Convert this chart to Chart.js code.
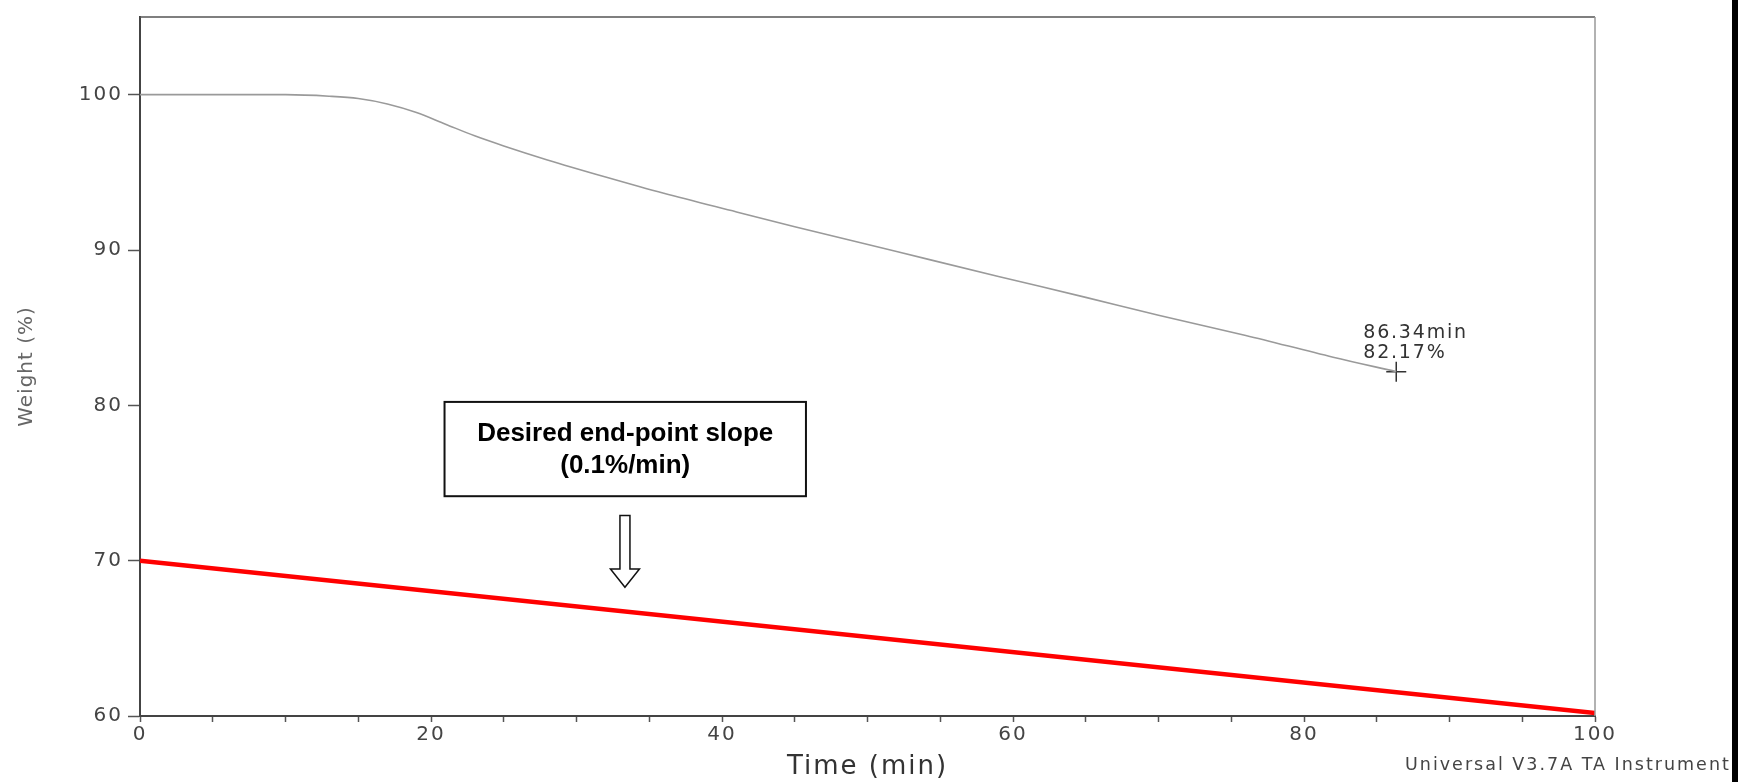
<!DOCTYPE html>
<html>
<head>
<meta charset="utf-8">
<script src="https://cdn.jsdelivr.net/npm/chart.js@4/dist/chart.umd.min.js"></script>
<style>
html, body { margin: 0; padding: 0; background: #fff; overflow: hidden; }
canvas { display: block; }
</style>
</head>
<body>
<canvas id="tgaChart" width="1738" height="782"></canvas>
<script>
// weight loss curve
const curveTime = [0, 5, 10, 13, 15, 17, 19, 21, 23, 25, 28, 32, 36, 41, 45, 52, 59, 65, 70, 76, 82, 86.34]
const curveWeight = [100, 100, 100, 99.9, 99.75, 99.4, 98.85, 98.1, 97.35, 96.7, 95.8, 94.7, 93.65, 92.45, 91.5, 89.9, 88.3, 86.95, 85.8, 84.5, 83.1, 82.17]

// red reference line (desired slope)
const slopeTime = [0, 100]
const slopeWeight = [70, 60.2]

// end point marker
const markTime = [86.34]
const markWeight = [82.17]
const markLabel = ['86.34min', '82.17%']

const yTicks = [60, 70, 80, 90, 100]
const xLabels = [0, 20, 40, 60, 80, 100]

const boxText = ['Desired end-point slope', '(0.1%/min)']

const toXY = (xs, ys) => xs.map((v, i) => ({ x: v, y: ys[i] }))

const tickFont = { family: '"DejaVu Sans", sans-serif', size: 20 }

// the scanned instrument font is wide, so space the letters out a bit
const wideText = {
    id: 'wideText',
    beforeDraw(chart) {
        chart.ctx.letterSpacing = '2px'
    }
}

const extras = {
    id: 'extras',
    afterDraw(chart) {
        const { ctx, chartArea: a, scales: { x, y } } = chart
        ctx.save()

        // frame top + right
        ctx.lineWidth = 1.5
        ctx.strokeStyle = '#555'
        ctx.beginPath()
        ctx.moveTo(a.left, a.top)
        ctx.lineTo(a.right, a.top)
        ctx.stroke()
        ctx.strokeStyle = '#999'
        ctx.beginPath()
        ctx.moveTo(a.right, a.top)
        ctx.lineTo(a.right, a.bottom)
        ctx.stroke()

        // marker label
        const mx = x.getPixelForValue(markTime[0])
        const my = y.getPixelForValue(markWeight[0])
        ctx.letterSpacing = '1.8px'
        ctx.fillStyle = '#333'
        ctx.font = '19px "DejaVu Sans", sans-serif'
        ctx.textAlign = 'left'
        ctx.textBaseline = 'middle'
        ctx.fillText(markLabel[0], mx - 33, my - 39)
        ctx.fillText(markLabel[1], mx - 33, my - 19)

        // annotation box
        const bx1 = x.getPixelForValue(20.93), bx2 = x.getPixelForValue(45.77)
        const by1 = y.getPixelForValue(80.22), by2 = y.getPixelForValue(74.15)
        ctx.fillStyle = '#fff'
        ctx.fillRect(bx1, by1, bx2 - bx1, by2 - by1)
        ctx.strokeStyle = '#111'
        ctx.lineWidth = 2
        ctx.strokeRect(bx1, by1, bx2 - bx1, by2 - by1)
        ctx.letterSpacing = '0px'
        ctx.fillStyle = '#000'
        ctx.font = 'bold 26px "Liberation Sans", Arial, sans-serif'
        ctx.textAlign = 'center'
        const bcx = (bx1 + bx2) / 2
        ctx.fillText(boxText[0], bcx, by1 + 32)
        ctx.fillText(boxText[1], bcx, by1 + 64)

        // hollow arrow
        const ax = x.getPixelForValue(33.33)
        const aTop = y.getPixelForValue(72.9)
        const aNeck = y.getPixelForValue(69.47)
        const aTip = y.getPixelForValue(68.29)
        ctx.beginPath()
        ctx.moveTo(ax - 5, aTop)
        ctx.lineTo(ax + 5, aTop)
        ctx.lineTo(ax + 5, aNeck)
        ctx.lineTo(ax + 14.5, aNeck)
        ctx.lineTo(ax, aTip)
        ctx.lineTo(ax - 14.5, aNeck)
        ctx.lineTo(ax - 5, aNeck)
        ctx.closePath()
        ctx.fillStyle = '#fff'
        ctx.fill()
        ctx.strokeStyle = '#111'
        ctx.lineWidth = 1.5
        ctx.stroke()

        // y axis title
        ctx.save()
        ctx.translate(32, (a.top + a.bottom) / 2)
        ctx.rotate(-Math.PI / 2)
        ctx.letterSpacing = '1px'
        ctx.fillStyle = '#666'
        ctx.font = '20px "DejaVu Sans", sans-serif'
        ctx.textAlign = 'center'
        ctx.textBaseline = 'alphabetic'
        ctx.fillText('Weight (%)', 0, 0)
        ctx.restore()

        // software footer
        ctx.letterSpacing = '2px'
        ctx.fillStyle = '#444'
        ctx.font = '17.5px "DejaVu Sans", sans-serif'
        ctx.textAlign = 'left'
        ctx.textBaseline = 'middle'
        ctx.fillText('Universal V3.7A TA Instrument', 1405, 765)

        // black edge at right
        ctx.fillStyle = '#000'
        ctx.fillRect(1732, 0, 6, chart.height)
        ctx.restore()
    }
}

let grafico

document.addEventListener('DOMContentLoaded', () => {
    const chart = document.getElementById('tgaChart')

    grafico = new Chart(chart, {
        type: 'line',
        data: {
            datasets: [{
                label: 'Weight',
                data: toXY(curveTime, curveWeight),
                borderColor: '#9a9a9a',
                borderWidth: 1.6,
                pointRadius: 0,
                cubicInterpolationMode: 'monotone'
            }, {
                label: 'Desired slope',
                data: toXY(slopeTime, slopeWeight),
                borderColor: '#ff0000',
                borderWidth: 4.5,
                pointRadius: 0
            }, {
                label: 'End point',
                data: toXY(markTime, markWeight),
                showLine: false,
                pointStyle: 'cross',
                pointRadius: 10,
                pointBorderWidth: 1.5,
                pointBorderColor: '#333'
            }]
        },
        options: {
            responsive: false,
            animation: false,
            parsing: false,
            layout: { padding: { top: 14, right: 143, left: 0, bottom: 0 } },
            plugins: {
                legend: { display: false },
                tooltip: { enabled: false }
            },
            scales: {
                x: {
                    type: 'linear',
                    min: 0,
                    max: 100,
                    afterFit: s => { s.height = 66 },
                    border: { display: true, color: '#444', width: 2 },
                    grid: { drawOnChartArea: false, tickLength: 6, color: '#555', tickWidth: 1.5 },
                    ticks: {
                        stepSize: 5,
                        autoSkip: false,
                        maxRotation: 0,
                        padding: 1,
                        color: '#444',
                        font: tickFont,
                        callback: v => xLabels.includes(v) ? String(v) : ''
                    },
                    title: {
                        display: true,
                        text: 'Time (min)',
                        color: '#333',
                        padding: 0,
                        font: { family: '"DejaVu Sans", sans-serif', size: 26, lineHeight: 1.15 }
                    }
                },
                y: {
                    type: 'linear',
                    min: 60,
                    max: 105,
                    afterFit: s => { s.width = 140 },
                    afterBuildTicks: s => { s.ticks = yTicks.map(v => ({ value: v })) },
                    border: { display: true, color: '#444', width: 2 },
                    grid: { drawOnChartArea: false, tickLength: 12, color: '#555', tickWidth: 1.5 },
                    ticks: {
                        padding: 5,
                        color: '#444',
                        font: tickFont
                    }
                }
            }
        },
        plugins: [wideText, extras]
    })
})
</script>
</body>
</html>
